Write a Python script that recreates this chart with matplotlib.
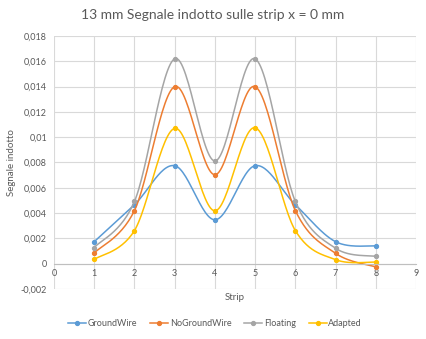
import numpy as np
import matplotlib.pyplot as plt

strip = [1, 2, 3, 4, 5, 6, 7, 8]
ground_wire = [0.00174, 0.00466, 0.00775, 0.00347, 0.00775, 0.00466, 0.00174, 0.00140]
no_ground_wire = [0.00085, 0.00420, 0.01400, 0.00703, 0.01400, 0.00420, 0.00082, -0.00025]
floating = [0.00128, 0.00492, 0.01620, 0.00812, 0.01620, 0.00492, 0.00122, 0.00058]
adapted = [0.00034, 0.00262, 0.01070, 0.00418, 0.01075, 0.00262, 0.00032, 0.00013]
y_ticks = [-0.002, 0, 0.002, 0.004, 0.006, 0.008, 0.01, 0.012, 0.014, 0.016, 0.018]
y_labels = ["-0,002", "0", "0,002", "0,004", "0,006", "0,008", "0,01",
            "0,012", "0,014", "0,016", "0,018"]

series = [("GroundWire", ground_wire, "#5B9BD5"),
          ("NoGroundWire", no_ground_wire, "#ED7D31"),
          ("Floating", floating, "#A5A5A5"),
          ("Adapted", adapted, "#FFC000")]

text_c = "#595959"
grid_c = "#D9D9D9"


def smooth(x, y, n=30):
    # Excel-style smoothed line: cubic Bezier through the points
    x, y = np.asarray(x, float), np.asarray(y, float)
    px, py = [], []
    for i in range(len(x) - 1):
        i0, i3 = max(i - 1, 0), min(i + 2, len(x) - 1)
        c1x = x[i] + (x[i + 1] - x[i0]) / 6
        c1y = y[i] + (y[i + 1] - y[i0]) / 6
        c2x = x[i + 1] - (x[i3] - x[i]) / 6
        c2y = y[i + 1] - (y[i3] - y[i]) / 6
        t = np.linspace(0, 1, n)
        bx = (1-t)**3*x[i] + 3*(1-t)**2*t*c1x + 3*(1-t)*t**2*c2x + t**3*x[i+1]
        by = (1-t)**3*y[i] + 3*(1-t)**2*t*c1y + 3*(1-t)*t**2*c2y + t**3*y[i+1]
        px.extend(bx)
        py.extend(by)
    return px, py


plt.rcParams['font.family'] = ['Lato', 'DejaVu Sans']
fig = plt.figure(figsize=(4.27, 3.39), dpi=100)
ax = fig.add_axes([54/427, 1 - 289/339, 362/427, 253/339])

for name, vals, c in series:
    sx, sy = smooth(strip, vals)
    ax.plot(sx, sy, color=c, lw=1.1)
    ax.plot(strip, vals, 'o', color=c, ms=2.8)
    ax.plot([], [], color=c, lw=1.1, marker='o', ms=2.8, label=name)

ax.set_xlim(0, 9)
ax.set_ylim(-0.002, 0.018)
ax.set_xticks(range(0, 10))
ax.set_yticks(y_ticks)
ax.set_yticklabels(y_labels)
ax.grid(True, color=grid_c, lw=0.8)
ax.set_axisbelow(True)
for s in ['top', 'right', 'left']:
    ax.spines[s].set_visible(False)
ax.spines['bottom'].set_position(('data', 0))
ax.spines['bottom'].set_color("#BFBFBF")
ax.tick_params(axis='both', colors=text_c, labelsize=6.5, length=0)
ax.tick_params(axis='x', pad=4)
ax.tick_params(axis='y', pad=5)

ax.set_ylabel("Segnale indotto", color=text_c, fontsize=7)
ax.yaxis.set_label_coords(-38/362, 0.5)
fig.text(235/427, 1 - 297/339, "Strip", color=text_c, fontsize=7, ha='center', va='center')
fig.text(213/427, 1 - 15/339, "13 mm Segnale indotto sulle strip x = 0 mm",
         color=text_c, fontsize=10, ha='center', va='center')

fig.legend(loc='center', bbox_to_anchor=(215/427, 1 - 324/339), ncol=4, frameon=False,
           fontsize=6.5, labelcolor=text_c, handlelength=2.0, columnspacing=1.4,
           handletextpad=0.2)

fig.savefig("out.png", dpi=100)
